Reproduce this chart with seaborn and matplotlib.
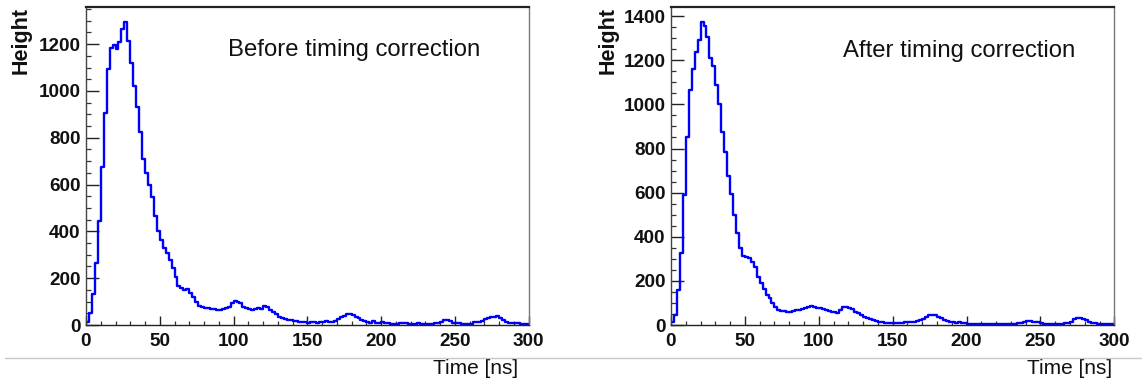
import numpy as np
import pandas as pd
import seaborn as sns
import matplotlib.pyplot as plt
from matplotlib.ticker import MultipleLocator
from matplotlib.lines import Line2D

# ---------------- data ----------------
time_bin_edges_ns = list(range(0, 301, 2))

before_counts = [
    14, 50, 133, 264, 446, 677, 905, 1093, 1183, 1197, 1178, 1211, 1265, 1295, 1215, 1121, 1022, 933, 826, 709, 651, 598, 548, 466, 403,
    363, 330, 308, 278, 242, 205, 168, 158, 150, 152, 138, 118, 98, 80, 76, 74, 72, 70, 68, 64, 62, 68, 72, 76, 92,
    102, 100, 92, 75, 72, 70, 66, 70, 72, 70, 80, 76, 64, 55, 45, 36, 30, 26, 22, 22, 18, 16, 14, 14, 12,
    10, 12, 12, 10, 12, 14, 16, 14, 14, 18, 25, 35, 40, 45, 48, 44, 36, 30, 22, 18, 12, 10, 18, 8, 8,
    12, 10, 8, 6, 6, 6, 8, 10, 8, 6, 5, 6, 8, 6, 5, 6, 5, 6, 8, 10, 14, 20, 22, 16, 10,
    8, 8, 5, 4, 4, 6, 12, 14, 12, 18, 26, 28, 34, 36, 38, 30, 20, 14, 10, 8, 8, 8, 5, 4, 3,
]

after_counts = [
    15, 45, 158, 327, 588, 852, 1066, 1161, 1237, 1290, 1373, 1353, 1305, 1210, 1172, 1086, 1003, 875, 784, 674, 596, 498, 415, 347, 312,
    309, 302, 287, 261, 219, 189, 161, 136, 121, 101, 80, 68, 65, 65, 60, 60, 65, 68, 68, 71, 75, 83, 86, 83, 78,
    75, 71, 68, 65, 60, 60, 56, 68, 80, 83, 78, 71, 60, 53, 45, 38, 30, 26, 23, 20, 15, 14, 11, 11, 11,
    8, 8, 11, 11, 14, 14, 15, 15, 20, 23, 26, 38, 45, 45, 45, 36, 30, 22, 18, 15, 12, 10, 12, 10, 8,
    6, 6, 5, 5, 6, 5, 5, 6, 5, 5, 5, 6, 5, 5, 5, 6, 5, 8, 10, 14, 16, 18, 14, 12, 15,
    8, 6, 5, 4, 5, 4, 5, 6, 8, 10, 14, 26, 30, 30, 26, 22, 12, 10, 8, 6, 5, 5, 4, 3, 3,
]

panel_titles = ["Before timing correction", "After timing correction"]
x_label = "Time [ns]"
y_label = "Height"
y_limits = [1360, 1440]

# ---------------- style ----------------
sns.set_theme(style="white")
plt.rcParams["font.family"] = ["Liberation Sans", "DejaVu Sans"]

fig = plt.figure(figsize=(11.42, 3.85), dpi=100)
axes_rects = [
    [86 / 1142, 60 / 385, 442.7 / 1142, 318.3 / 385],
    [671 / 1142, 60 / 385, 443.3 / 1142, 317.7 / 385],
]
text_x = [0.321, 0.388]
ylabel_x = [-0.122, -0.119]
xlabel_x = [0.976, 0.994]

edges = np.array(time_bin_edges_ns, dtype=float)
centers = (edges[:-1] + edges[1:]) / 2

for i, counts in enumerate([before_counts, after_counts]):
    ax = fig.add_axes(axes_rects[i])
    df = pd.DataFrame({"time": centers, "height": np.asarray(counts, dtype=float)})
    sns.histplot(data=df, x="time", weights="height", bins=time_bin_edges_ns,
                 element="step", fill=False, color="#0000ff", linewidth=1.7, ax=ax)
    ax.set_xlim(0, 300)
    ax.set_ylim(0, y_limits[i])
    ax.xaxis.set_major_locator(MultipleLocator(50))
    ax.xaxis.set_minor_locator(MultipleLocator(10))
    ax.yaxis.set_major_locator(MultipleLocator(200))
    ax.yaxis.set_minor_locator(MultipleLocator(50))
    ax.tick_params(axis="y", which="major", direction="in", length=9.4, width=1.0,
                   color="#222222", labelsize=13.6, pad=4, left=True, right=False)
    ax.tick_params(axis="y", which="minor", direction="in", length=3.8, width=0.9,
                   color="#333333", left=True, right=False)
    ax.tick_params(axis="x", which="major", direction="in", length=6.7, width=1.0,
                   color="#222222", labelsize=13.6, pad=6, bottom=True, top=False)
    ax.tick_params(axis="x", which="minor", direction="in", length=3.1, width=0.9,
                   color="#333333", bottom=True, top=False)
    for lab in ax.get_xticklabels() + ax.get_yticklabels():
        lab.set_fontweight("bold")
        lab.set_color("#111111")
    ax.spines["left"].set_color("#444444")
    ax.spines["left"].set_linewidth(1.0)
    ax.spines["bottom"].set_color("#222222")
    ax.spines["bottom"].set_linewidth(1.0)
    ax.spines["top"].set_color("#222222")
    ax.spines["top"].set_linewidth(1.6)
    ax.spines["right"].set_color("#777777")
    ax.spines["right"].set_linewidth(1.0)
    ax.grid(False)

    ax.set_ylabel(y_label, loc="top", fontsize=15.5, fontweight="bold", color="#111111")
    ax.yaxis.set_label_coords(ylabel_x[i], 1.0)
    ax.set_xlabel(x_label, loc="right", fontsize=15, color="#111111")
    ax.xaxis.set_label_coords(xlabel_x[i], -0.136)
    ax.xaxis.label.set_va("center")

    ax.text(text_x[i], 0.864, panel_titles[i], transform=ax.transAxes,
            ha="left", va="center", fontsize=17.2, color="#111111")

fig.add_artist(Line2D([5 / 1142, 1.0], [27.5 / 385, 27.5 / 385], color="#c8c8c8",
                      linewidth=1.0, transform=fig.transFigure))

fig.savefig("out.png", dpi=100, facecolor="white")
